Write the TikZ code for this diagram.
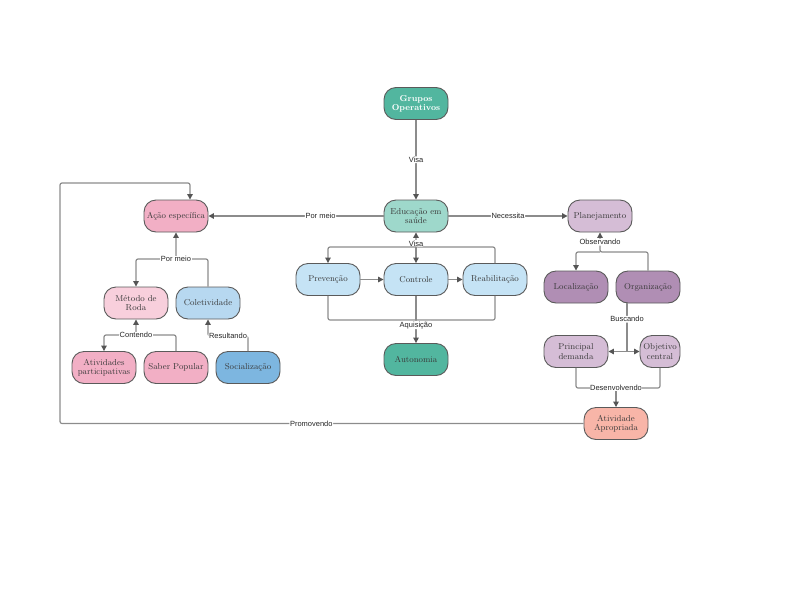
\documentclass[tikz,border=0pt]{standalone}
\usepackage{fontspec}
\usepackage{tikz}
\usetikzlibrary{arrows.meta}
\newfontfamily\lblfont{Liberation Sans}

\definecolor{boxLine}{HTML}{5A5A5A}
\definecolor{lineCol}{HTML}{8C8C8C}
\definecolor{arrCol}{HTML}{555555}
\definecolor{textCol}{HTML}{3A3A3A}
\definecolor{tealDark}{HTML}{52B69F}
\definecolor{tealLight}{HTML}{9ED8CB}
\definecolor{pinkMid}{HTML}{F2AFC5}
\definecolor{pinkLight}{HTML}{F8CFDC}
\definecolor{blueLight}{HTML}{C5E3F5}
\definecolor{blueMid}{HTML}{B7D8F0}
\definecolor{blueDark}{HTML}{7DB6E0}
\definecolor{lilacLight}{HTML}{D5BDD6}
\definecolor{lilacDark}{HTML}{B08EB4}
\definecolor{salmon}{HTML}{F8B5A8}

\tikzset{
  box/.style={draw=boxLine, line width=0.9pt, rounded corners=12pt,
    minimum width=64pt, minimum height=32pt, inner sep=1pt, align=center,
    text=textCol, font=\fontsize{8.6}{9.2}\selectfont},
  line/.style={draw=lineCol, line width=1.2pt, rounded corners=2pt},
  conn/.style={line, -{Triangle[length=5.5pt,width=5.5pt,color=arrCol]}},
  lbl/.style={fill=white, inner sep=0.6pt, text=black!85,
    font=\lblfont\fontsize{7.5}{8}\selectfont},
}

\begin{document}
\begin{tikzpicture}[x=1pt,y=-1pt]
  \useasboundingbox (0,0) rectangle (800,600);

  % center column
  \node[box, fill=tealDark, text=white, font=\bfseries\fontsize{8.6}{9.2}\selectfont] (gop) at (416,103.5) {Grupos\\Operativos};
  \node[box, fill=tealLight] (edu) at (416,216) {Educação em\\saúde};
  \node[box, fill=blueLight] (prev) at (328,279.5) {Prevenção};
  \node[box, fill=blueLight] (ctr) at (416,279.5) {Controle};
  \node[box, fill=blueLight] (reab) at (495,279.5) {Reabilitação};
  \node[box, fill=tealDark] (auto) at (416,359.5) {Autonomia};

  % left cluster
  \node[box, fill=pinkMid] (aca) at (176,216) {Ação específica};
  \node[box, fill=pinkLight] (met) at (136,303) {Método de\\Roda};
  \node[box, fill=blueMid] (col) at (208,303) {Coletividade};
  \node[box, fill=pinkMid] (atp) at (104,367.5) {Atividades\\participativas};
  \node[box, fill=pinkMid] (sab) at (176,367.5) {Saber Popular};
  \node[box, fill=blueDark] (soc) at (248,367.5) {Socialização};

  % right cluster
  \node[box, fill=lilacLight] (plan) at (600,216) {Planejamento};
  \node[box, fill=lilacDark] (loc) at (576,287) {Localização};
  \node[box, fill=lilacDark] (org) at (648,287) {Organização};
  \node[box, fill=lilacLight] (pri) at (576,351.5) {Principal\\demanda};
  \node[box, fill=lilacLight, minimum width=40pt] (obj) at (660,351.5) {Objetivo\\central};
  \node[box, fill=salmon] (ati) at (616,423.5) {Atividade\\Apropriada};

  % junctions
  \coordinate (vJ) at (416,247);
  \coordinate (aJ) at (416,320);
  \coordinate (pmJ) at (176,259);
  \coordinate (ctJ) at (136,335);
  \coordinate (rJ) at (208,336);
  \coordinate (oJ) at (600,252);
  \coordinate (bJ) at (627,351.5);
  \coordinate (dJ) at (616,388);
  \coordinate (pL) at (60,423.5);
  \coordinate (pT) at (190,183);

  % center connectors
  \draw[conn] (gop) -- node[lbl]{Visa} (edu);
  \draw[conn] (edu) -- node[lbl, pos=0.36]{Por meio} (aca);
  \draw[conn] (edu) -- node[lbl]{Necessita} (plan);
  \draw[conn] (reab.north) |- (vJ) -- node[lbl, pos=0.25]{Visa} (edu.south);
  \draw[conn] (vJ) -| (prev.north);
  \draw[conn] (vJ) -- (ctr.north);
  \draw[conn] (prev) -- (ctr);
  \draw[conn] (ctr) -- (reab);
  \draw[line] (prev.south) |- (aJ);
  \draw[line] (reab.south) |- (aJ);
  \draw[conn] (ctr.south) -- (aJ) -- node[lbl, pos=0.22]{Aquisição} (auto.north);

  % left connectors
  \draw[conn] (col.north) |- (pmJ) -- (aca.south);
  \draw[conn] (pmJ) -| (met.north);
  \node[lbl] at (pmJ) {Por meio};
  \draw[conn] (sab.north) |- (ctJ) -- (met.south);
  \draw[conn] (ctJ) -| (atp.north);
  \node[lbl] at (ctJ) {Contendo};
  \draw[conn] (soc.north) |- node[lbl, pos=0.75]{Resultando} (rJ) -- (col.south);

  % right connectors
  \draw[conn] (org.north) |- (oJ) -- node[lbl, pos=0.5]{Observando} (plan.south);
  \draw[conn] (oJ) -| (loc.north);
  \draw[line] (org.south -| bJ) -- node[lbl, pos=0.33]{Buscando} (bJ);
  \draw[conn] (bJ) -- (pri.east);
  \draw[conn] (bJ) -- (obj.west);
  \draw[line] (pri.south) |- (dJ);
  \draw[line] (obj.south) |- (dJ);
  \draw[conn] (dJ) -- (ati.north);
  \node[lbl] at (dJ) {Desenvolvendo};

  % loop back
  \draw[conn] (ati.west) -- node[lbl, pos=0.52]{Promovendo} (pL) |- (pT) -- (pT |- aca.north);
\end{tikzpicture}
\end{document}
